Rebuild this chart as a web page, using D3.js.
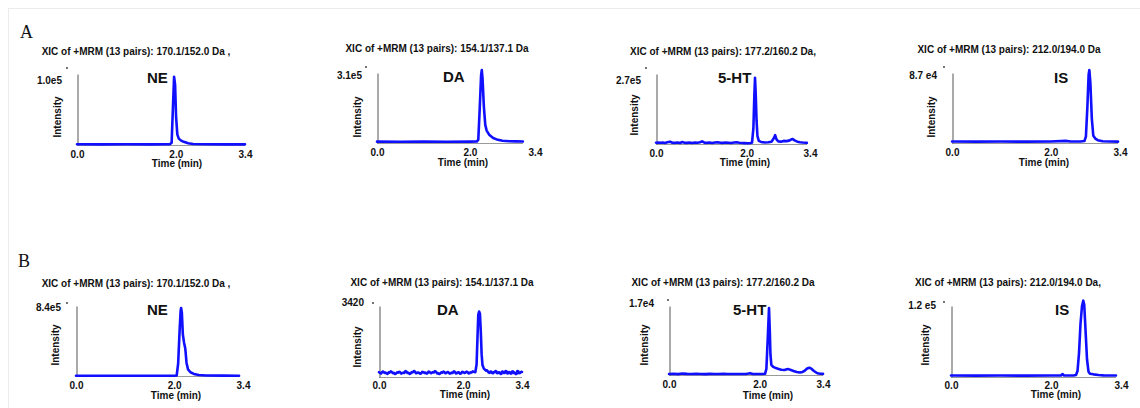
<!DOCTYPE html>
<html>
<head>
<meta charset="utf-8">
<script src="https://cdn.jsdelivr.net/npm/d3@7"></script>
<style>
  html, body { margin: 0; padding: 0; background: #ffffff; }
  svg { display: block; }
  text { font-family: "Liberation Sans", Arial, sans-serif; }
</style>
</head>
<body>
<svg id="chart" width="1140" height="408"></svg>
<script>
// ---------------- DATA ----------------
const rowLabels = ["A", "B"];
const compounds = ["NE", "DA", "5-HT", "IS", "NE", "DA", "5-HT", "IS"];
const titles = [
  "XIC of +MRM (13 pairs): 170.1/152.0 Da ,",
  "XIC of +MRM (13 pairs): 154.1/137.1 Da",
  "XIC of +MRM (13 pairs): 177.2/160.2 Da,",
  "XIC of +MRM (13 pairs): 212.0/194.0 Da",
  "XIC of +MRM (13 pairs): 170.1/152.0 Da ,",
  "XIC of +MRM (13 pairs): 154.1/137.1 Da",
  "XIC of +MRM (13 pairs): 177.2/160.2 Da",
  "XIC of +MRM (13 pairs): 212.0/194.0 Da,"
];
const yMaxLabels = ["1.0e5", "3.1e5", "2.7e5", "8.7 e4", "8.4e5", "3420", "1.7e4", "1.2 e5"];
const yMaxValues = [1.0e5, 3.1e5, 2.7e5, 8.7e4, 8.4e5, 3420, 1.7e4, 1.2e5];
const xTicks = [0.0, 2.0, 3.4];
const xDomain = [0, 3.4];
const xTitle = "Time (min)";
const yTitle = "Intensity";

// traces: [time (min), intensity]
const traceA_NE = [[0,1000],[0.5,900],[1.0,1000],[1.5,900],[1.88,1000],[1.915,3000],[1.94,50000],[1.965,96000],[1.985,85000],[2.005,40000],[2.03,15000],[2.06,9000],[2.10,6500],[2.16,4500],[2.25,2500],[2.35,1500],[2.6,1000],[3.0,900],[3.4,900]];
const traceA_DA = [[0,6000],[0.5,5500],[1.0,6000],[1.5,5500],[2.0,6000],[2.15,6500],[2.18,15000],[2.21,150000],[2.24,300000],[2.255,323000],[2.27,290000],[2.30,160000],[2.33,80000],[2.36,55000],[2.42,35000],[2.50,22000],[2.60,14000],[2.70,10000],[2.85,8000],[3.00,7000],[3.14,6500]];
const traceA_5HT = [[0.00,5000],[0.05,6000],[0.10,4500],[0.15,5500],[0.20,4000],[0.25,6500],[0.31,9000],[0.36,5000],[0.42,4500],[0.48,6000],[0.53,4000],[0.58,7500],[0.63,5000],[0.68,4500],[0.74,5500],[0.80,4000],[0.86,6000],[0.92,5000],[0.97,6500],[1.02,10000],[1.07,5000],[1.12,4500],[1.18,6000],[1.24,4000],[1.30,5500],[1.36,7000],[1.42,5000],[1.48,4500],[1.54,6000],[1.60,5000],[1.66,4000],[1.72,5500],[1.78,6500],[1.84,5000],[1.90,4000],[1.96,3500],[2.02,3000],[2.08,3500],[2.12,5000],[2.15,60000],[2.17,180000],[2.186,255000],[2.20,200000],[2.22,90000],[2.24,30000],[2.27,12000],[2.32,8000],[2.40,6000],[2.48,7000],[2.55,9000],[2.60,22000],[2.63,34000],[2.66,18000],[2.70,10000],[2.76,9000],[2.82,12000],[2.88,11000],[2.94,13000],[2.98,17000],[3.02,19000],[3.06,14000],[3.12,9000],[3.18,7000],[3.24,5500],[3.30,5000],[3.33,4500]];
const traceA_IS = [[0,1800],[0.5,1700],[1.0,1800],[1.5,1700],[2.0,1900],[2.3,2600],[2.4,1800],[2.6,1900],[2.68,2500],[2.71,8000],[2.74,45000],[2.765,85000],[2.78,90700],[2.80,75000],[2.83,30000],[2.86,9000],[2.90,5500],[2.95,3500],[3.05,2200],[3.2,1800],[3.36,1700]];
const traceB_NE = [[0,3000],[0.5,2500],[1.0,3000],[1.5,2500],[2.0,3000],[2.05,6000],[2.08,150000],[2.11,550000],[2.13,780000],[2.14,816000],[2.155,760000],[2.175,500000],[2.20,400000],[2.225,330000],[2.25,160000],[2.28,80000],[2.33,45000],[2.40,25000],[2.50,12000],[2.65,6000],[3.0,4000],[3.32,3500]];
const traceB_DA = [[0.00,230],[0.03,190],[0.05,170],[0.08,250],[0.10,260],[0.13,200],[0.15,215],[0.18,165],[0.20,150],[0.23,230],[0.25,210],[0.28,275],[0.30,250],[0.33,185],[0.35,200],[0.38,150],[0.40,160],[0.43,220],[0.45,205],[0.48,250],[0.50,230],[0.53,165],[0.55,185],[0.58,210],[0.60,195],[0.63,285],[0.65,260],[0.68,190],[0.70,200],[0.73,150],[0.75,170],[0.78,235],[0.80,220],[0.83,290],[0.85,270],[0.88,180],[0.90,190],[0.93,220],[0.95,200],[0.98,155],[1.00,165],[1.03,250],[1.05,230],[1.08,195],[1.10,210],[1.13,165],[1.15,175],[1.18,260],[1.20,240],[1.23,185],[1.25,195],[1.28,230],[1.30,215],[1.33,280],[1.35,260],[1.38,175],[1.40,185],[1.43,145],[1.45,160],[1.48,220],[1.50,205],[1.53,260],[1.55,240],[1.58,180],[1.60,195],[1.63,240],[1.65,225],[1.68,165],[1.70,175],[1.73,210],[1.75,195],[1.78,270],[1.80,255],[1.83,175],[1.85,185],[1.88,230],[1.90,215],[1.93,155],[1.95,165],[1.98,250],[2.00,235],[2.03,195],[2.05,205],[2.08,260],[2.10,245],[2.13,175],[2.15,185],[2.18,230],[2.20,215],[2.23,270],[2.25,255],[2.29,230],[2.32,600],[2.34,1800],[2.36,3000],[2.38,3150],[2.40,3050],[2.42,2200],[2.44,1100],[2.46,580],[2.49,420],[2.52,350],[2.55,300],[2.57,320],[2.59,260],[2.61,215],[2.63,200],[2.65,265],[2.67,250],[2.69,190],[2.71,180],[2.73,240],[2.75,230],[2.77,285],[2.79,270],[2.81,185],[2.83,190],[2.85,230],[2.87,220],[2.89,150],[2.91,160],[2.93,260],[2.95,250],[2.97,195],[2.99,200],[3.01,290],[3.03,280],[3.05,175],[3.07,180],[3.09,240],[3.11,230],[3.13,165],[3.15,170],[3.17,270],[3.19,260],[3.21,195],[3.23,200],[3.25,145],[3.27,150],[3.29,290],[3.31,280],[3.33,185],[3.35,190],[3.38,250],[3.40,240]];
const traceB_5HT = [[0.00,250],[0.10,300],[0.20,220],[0.30,350],[0.40,280],[0.50,240],[0.60,300],[0.70,260],[0.80,220],[0.90,280],[1.00,250],[1.10,230],[1.20,270],[1.30,240],[1.40,260],[1.50,230],[1.60,250],[1.70,240],[1.79,450],[1.85,260],[1.95,230],[2.05,240],[2.12,300],[2.15,1500],[2.18,9000],[2.208,16500],[2.225,11000],[2.24,5000],[2.26,2500],[2.30,2000],[2.36,1700],[2.42,1500],[2.48,1300],[2.55,1250],[2.60,1400],[2.64,1450],[2.69,1250],[2.75,1000],[2.82,750],[2.89,600],[2.95,750],[3.00,1100],[3.05,1600],[3.10,1800],[3.15,1500],[3.20,1000],[3.25,600],[3.30,350],[3.35,300],[3.40,280]];
const traceB_IS = [[0,2500],[0.5,2300],[1.0,2500],[1.5,2300],[2.0,2500],[2.2,2600],[2.23,5000],[2.26,2600],[2.45,2500],[2.50,3500],[2.53,10000],[2.56,40000],[2.59,90000],[2.62,120000],[2.646,129000],[2.665,122000],[2.69,80000],[2.72,30000],[2.75,9000],[2.78,5500],[2.85,4500],[2.95,3500],[3.05,2800],[3.30,2500]];
const traces = [traceA_NE, traceA_DA, traceA_5HT, traceA_IS, traceB_NE, traceB_DA, traceB_5HT, traceB_IS];

// ---------------- LAYOUT ----------------
const rowLayout = [{labelX: 20, labelY: 38}, {labelX: 18, labelY: 267}];
const panelLayout = [
  {x0: 77,  x1: 245,  base: 145, top: 74,  titleX: 136, titleY: 55,  maxY: 84,  dot: [67, 68],   cmpX: 147,  cmpY: 83,  intX: 57,  intY: 117, timeX: 177,  timeY: 167, tickY: 156},
  {x0: 377, x1: 535,  base: 143, top: 73,  titleX: 437, titleY: 52,  maxY: 79,  dot: [366, 67],  cmpX: 443,  cmpY: 82,  intX: 357, intY: 117, timeX: 463,  timeY: 166, tickY: 154},
  {x0: 656, x1: 810,  base: 144, top: 74,  titleX: 723, titleY: 55,  maxY: 84,  dot: [646, 68],  cmpX: 718,  cmpY: 83,  intX: 634, intY: 115, timeX: 745,  timeY: 166, tickY: 155},
  {x0: 952, x1: 1120, base: 143, top: 73,  titleX: 1009, titleY: 53, maxY: 79,  dot: [944, 67],  cmpX: 1054, cmpY: 83,  intX: 931, intY: 117, timeX: 1044, timeY: 166, tickY: 154},
  {x0: 76,  x1: 243,  base: 376, top: 306, titleX: 136, titleY: 287, maxY: 311, dot: [67, 303],  cmpX: 147,  cmpY: 315, intX: 55,  intY: 345, timeX: 176,  timeY: 399, tickY: 387},
  {x0: 379, x1: 522,  base: 377, top: 306, titleX: 442, titleY: 286, maxY: 306, dot: [373, 303], cmpX: 437,  cmpY: 315, intX: 357, intY: 347, timeX: 465,  timeY: 398, tickY: 387},
  {x0: 669, x1: 823,  base: 375, top: 306, titleX: 723, titleY: 286, maxY: 307, dot: [668, 300], cmpX: 733,  cmpY: 315, intX: 644, intY: 345, timeX: 768,  timeY: 399, tickY: 386},
  {x0: 951, x1: 1121, base: 377, top: 306, titleX: 1008, titleY: 286, maxY: 309, dot: [944, 302], cmpX: 1055, cmpY: 315, intX: 925, intY: 345, timeX: 1056, timeY: 398, tickY: 387}
];

const lineColor = "#1010ff";

// ---------------- DRAW ----------------
const svg = d3.select("#chart");
svg.append("rect").attr("width", 1140).attr("height", 408).attr("fill", "#fff");
// faint frame
svg.append("line").attr("x1", 8).attr("x2", 1140).attr("y1", 8.5).attr("y2", 8.5).attr("stroke", "#ececec");
svg.append("line").attr("x1", 8.5).attr("x2", 8.5).attr("y1", 8).attr("y2", 408).attr("stroke", "#ececec");

rowLabels.forEach((lab, i) => {
  svg.append("text").attr("x", rowLayout[i].labelX).attr("y", rowLayout[i].labelY)
    .style("font-family", "'Liberation Serif', 'Times New Roman', serif")
    .style("font-size", "18px").attr("fill", "#111").text(lab);
});

traces.forEach((trace, i) => {
  const L = panelLayout[i];
  const g = svg.append("g");
  const x = d3.scaleLinear().domain(xDomain).range([L.x0, L.x1]);
  const y = d3.scaleLinear().domain([0, yMaxValues[i]]).range([L.base, L.top]);
  const tEnd = d3.max(trace, d => d[0]);

  // title
  g.append("text").attr("x", L.titleX).attr("y", L.titleY).attr("text-anchor", "middle")
    .style("font-size", "10px").style("font-weight", "bold").attr("fill", "#111").text(titles[i]);

  // x baseline (gray)
  g.append("line").attr("x1", L.x0).attr("x2", x(tEnd)).attr("y1", L.base + 0.5).attr("y2", L.base + 0.5)
    .attr("stroke", "#9a9a9a").attr("stroke-width", 1);

  // x axis tick labels
  const xAxis = d3.axisBottom(x).tickValues(xTicks).tickSize(0).tickFormat(d3.format(".1f"));
  const ax = g.append("g").attr("transform", `translate(0,${L.tickY - 8})`).call(xAxis);
  ax.select(".domain").remove();
  ax.selectAll("text").style("font-family", "'Liberation Sans', Arial, sans-serif")
    .style("font-size", "10px").style("font-weight", "bold").attr("fill", "#111").attr("dy", "0.71em");

  // y axis line
  const yAxis = d3.axisLeft(y).tickValues([]).tickSizeOuter(0);
  const ay = g.append("g").attr("transform", `translate(${L.x0 + 0.5},0)`).call(yAxis);
  ay.select(".domain").attr("stroke", "#555").attr("stroke-width", 1);

  // y max label & dot
  g.append("text").attr("x", L.x0 - 15).attr("y", L.maxY).attr("text-anchor", "end")
    .style("font-size", "10px").style("font-weight", "bold").attr("fill", "#111").text(yMaxLabels[i]);
  g.append("circle").attr("cx", L.dot[0]).attr("cy", L.dot[1]).attr("r", 0.9).attr("fill", "#333");

  // axis titles
  g.append("text").attr("transform", `translate(${L.intX + 4},${L.intY}) rotate(-90)`)
    .attr("text-anchor", "middle").style("font-size", "10px").style("font-weight", "bold")
    .attr("fill", "#111").text(yTitle);
  g.append("text").attr("x", L.timeX).attr("y", L.timeY).attr("text-anchor", "middle")
    .style("font-size", "10px").style("font-weight", "bold").attr("fill", "#111").text(xTitle);

  // compound label
  g.append("text").attr("x", L.cmpX).attr("y", L.cmpY)
    .style("font-size", "15px").style("font-weight", "bold").attr("fill", "#111").text(compounds[i]);

  // trace
  const line = d3.line().x(d => x(d[0])).y(d => y(d[1])).curve(d3.curveLinear);
  g.append("path").datum(trace).attr("d", line).attr("fill", "none")
    .attr("stroke", lineColor).attr("stroke-width", 2.6).attr("stroke-linejoin", "round").attr("stroke-linecap", "round");
});
</script>
</body>
</html>
